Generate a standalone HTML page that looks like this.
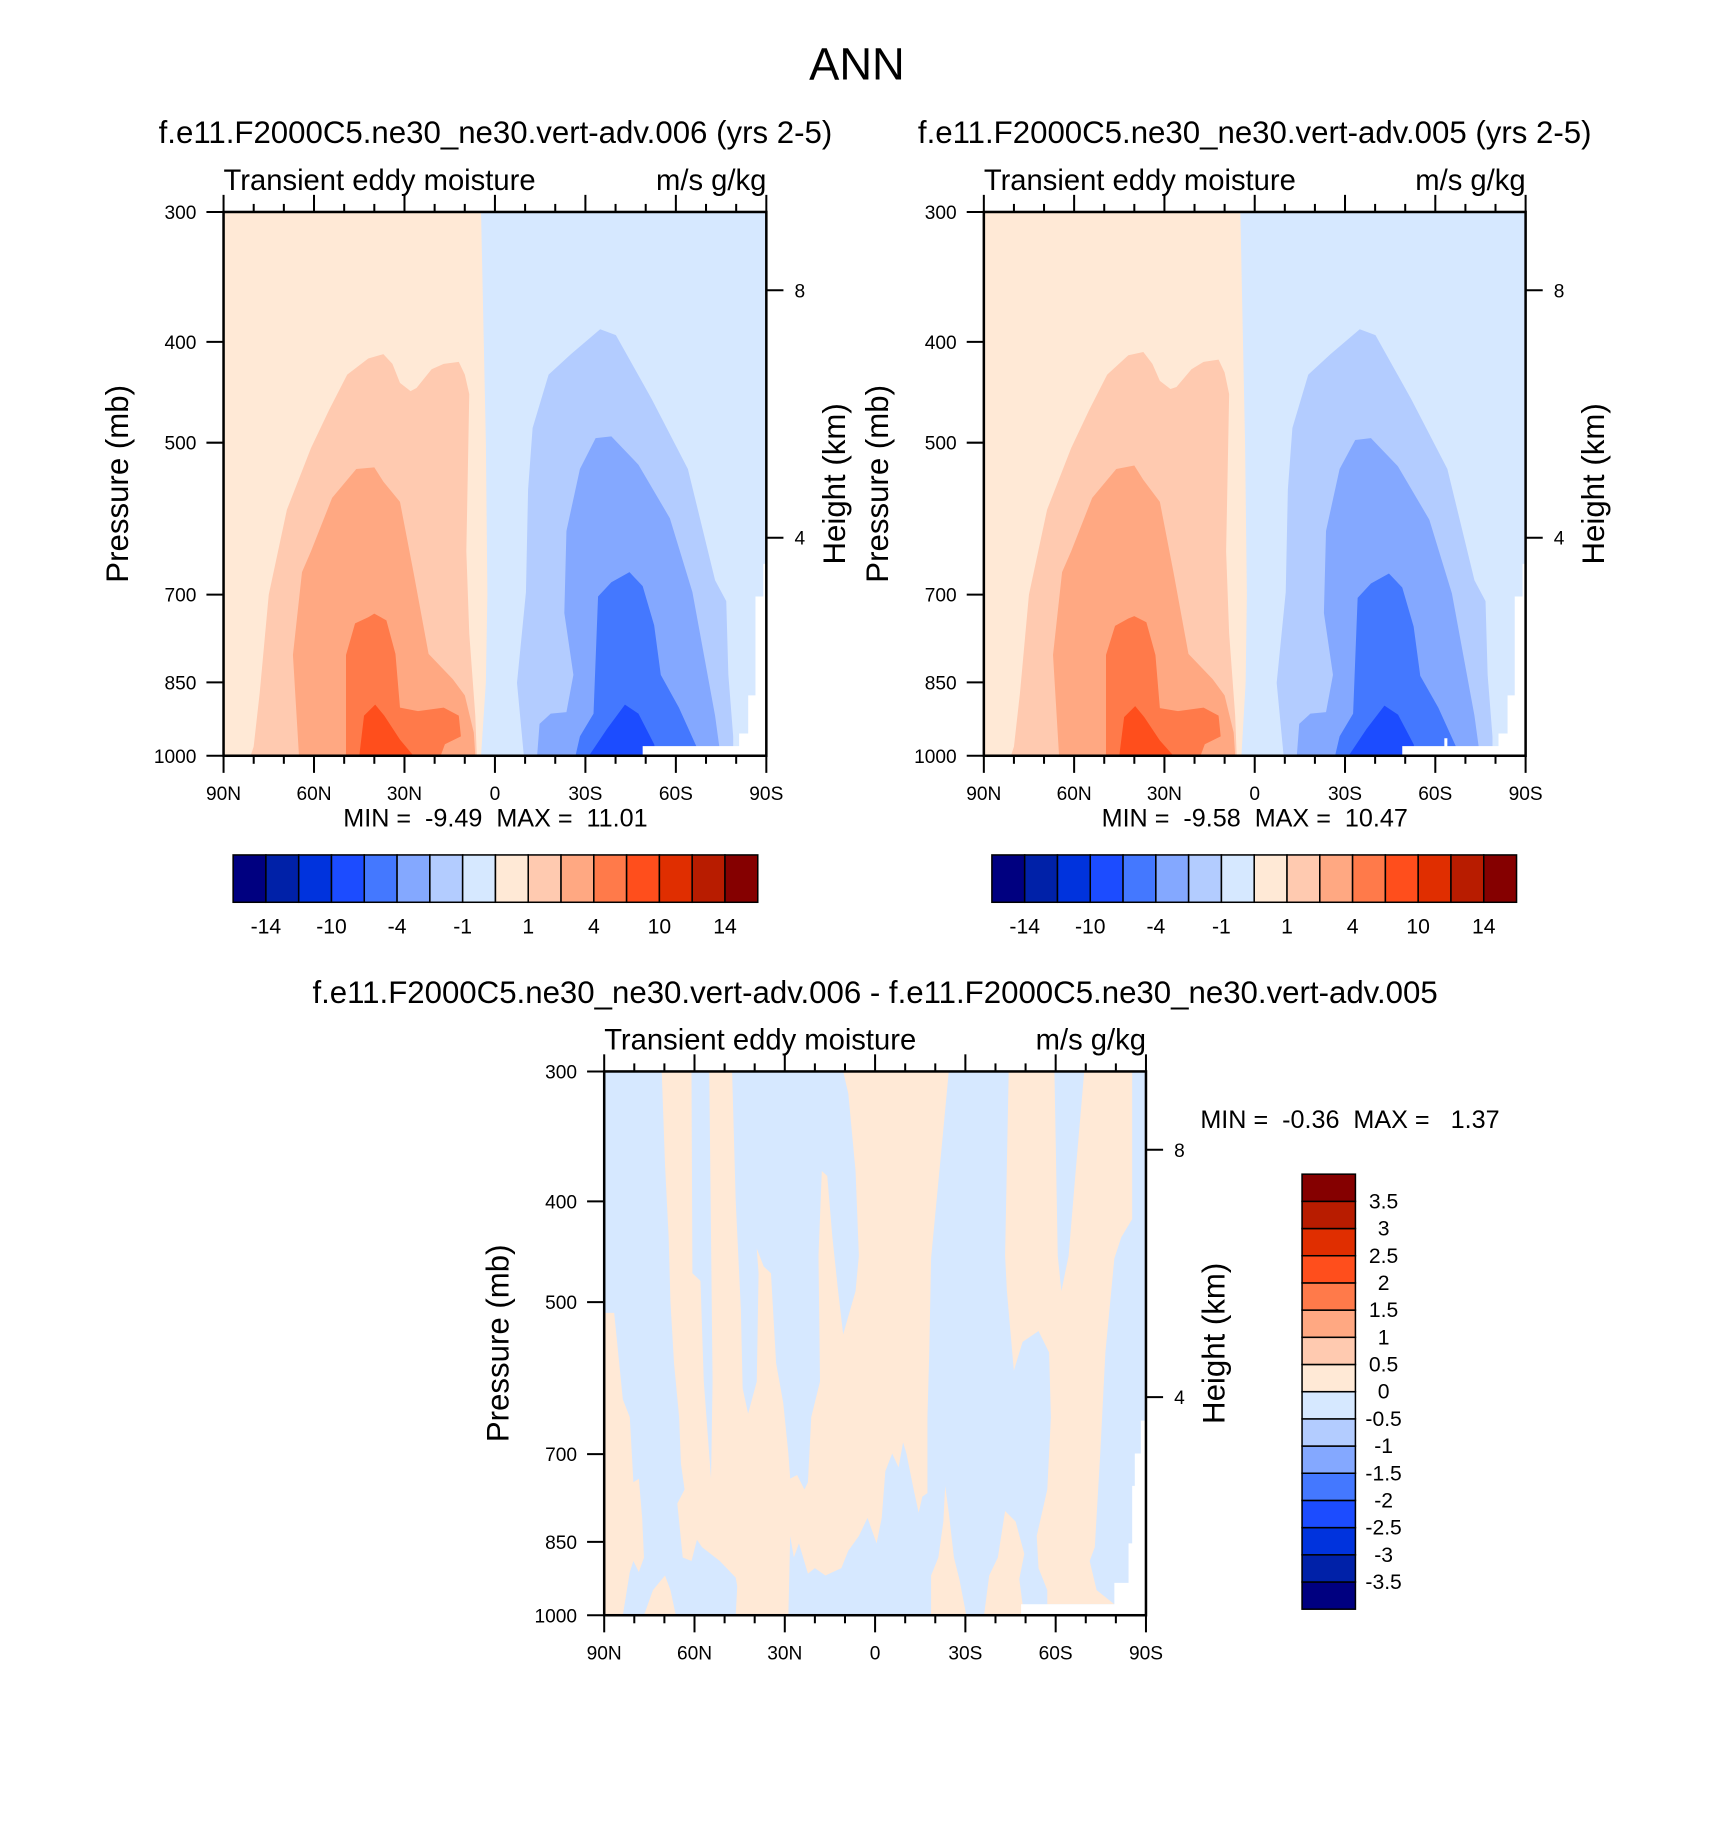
<!DOCTYPE html>
<html><head><meta charset="utf-8"><style>
html,body{margin:0;padding:0;background:#fff;}
svg text{font-family:"Liberation Sans",Arial,sans-serif;fill:#000;}
</style></head><body>
<svg id="svgroot" xmlns="http://www.w3.org/2000/svg" width="1710" height="1830" viewBox="0 0 1710 1830">
<rect width="1710" height="1830" fill="#fff"/>
<g id="chart" transform="scale(1.007)">
<text x="851" y="79" font-size="45" text-anchor="middle">ANN</text>
</g>
</svg>
<script>
// ---------- data ----------
const cbColors = ["#000080","#0021a8","#0033dd","#1c4cff","#4478ff","#84a8ff","#b3ccff","#d6e8ff","#ffe9d6","#ffcab0","#ffa882","#ff7a4a","#ff4e1c","#e02e00","#b81c00","#850000"];
const cbLabelsTop = ["-14","-10","-4","-1","1","4","10","14"];
const cbLabelsDiff = ["3.5","3","2.5","2","1.5","1","0.5","0","-0.5","-1","-1.5","-2","-2.5","-3","-3.5"];
const latTicks = [90,60,30,0,-30,-60,-90];
const latTickLabels = ["90N","60N","30N","0","30S","60S","90S"];
const pTicks = [300,400,500,700,850,1000];
const hTicks = [8,4];
const hTickFrac = [0.144,0.599];
const panelTitles = ["f.e11.F2000C5.ne30_ne30.vert-adv.006 (yrs 2-5)","f.e11.F2000C5.ne30_ne30.vert-adv.005 (yrs 2-5)","f.e11.F2000C5.ne30_ne30.vert-adv.006 - f.e11.F2000C5.ne30_ne30.vert-adv.005"];
const minMax = ["MIN =  -9.49  MAX =  11.01","MIN =  -9.58  MAX =  10.47","MIN =  -0.36  MAX =   1.37"];

// panel 1 contour outlines [lat, pressure]
const p1Pos0 = [[90,300],[4.6,300],[3,500],[2.5,700],[3,850],[4.6,1000],[90,1000]];
const p1Pos1 = [[81,1000],[80,980],[78,870],[75,700],[69,580],[61,506],[55,465],[49,430],[42,415],[37,411],[34,420],[31.5,438],[28,446],[26,443],[21,425],[17,420],[12,418],[10,430],[8.5,449],[9.5,636],[8.5,763],[6.5,915],[6,1000]];
const p1Pos2 = [[65,1000],[67,800],[64,666],[61,636],[54,565],[46,530],[40,528],[37,545],[31.5,570],[27,666],[22,798],[14,844],[10,875],[7,950],[6.5,1000]];
const p1Pos3 = [[49.4,1000],[49.4,800],[46.4,746],[42,736],[40,730],[36,741],[33,798],[31.5,899],[25.5,906],[17,899],[12,915],[11.3,958],[16.6,975],[18,1000]];
const p1Pos4 = [[45,1000],[43.4,915],[39.7,893],[36.7,915],[31.5,965],[27,1000]];
const p1Neg1 = [[-9.6,1000],[-7.3,851],[-10.3,696],[-11,555],[-12.5,484],[-17.8,430],[-25.2,411],[-34.9,389],[-40.1,394],[-52,454],[-64,530],[-73,678],[-76.7,710],[-77.4,836],[-79,958],[-79,1000]];
const p1Neg2 = [[-14,1000],[-14.8,932],[-18.5,911],[-23.7,908],[-26,836],[-23,729],[-23.7,608],[-28.2,530],[-33.4,495],[-38.6,493],[-47.6,525],[-58,591],[-65.5,696],[-73,915],[-74.5,985],[-74.5,1000]];
const p1Neg3 = [[-26.7,1000],[-28.2,958],[-32.7,911],[-34.2,703],[-38.6,681],[-44.6,666],[-49,687],[-52.8,749],[-55,836],[-61,899],[-67,982],[-67.7,1000]];
const p1Neg4 = [[-31.2,1000],[-37.2,942],[-43.1,893],[-47.6,911],[-52.8,975],[-53.6,1000]];
const p1Missing = [[-90,654],[-89,654],[-89,703],[-86.4,703],[-86.4,875],[-84,875],[-84,952],[-81,952],[-81,979],[-49,979],[-49,1000],[-90,1000]];

// panel 2 contour outlines [lat, pressure]
const p2Pos0 = [[90,300],[4.8,300],[3.2,500],[2.6,700],[3,850],[4.4,1000],[90,1000]];
const p2Pos1 = [[81,1000],[80,980],[78,870],[75,700],[69,580],[61,506],[55,465],[49,430],[42,412],[37,409],[34,420],[31.5,436],[28,444],[26,442],[21,425],[17,418],[12,416],[10,428],[8.5,449],[9.5,636],[8.5,763],[6.5,915],[6,1000]];
const p2Pos2 = [[65,1000],[67,800],[64,666],[61,636],[54,565],[46,530],[40,526],[37,543],[31.5,570],[27,666],[22,798],[14,844],[10,875],[7,950],[6.5,1000]];
const p2Pos3 = [[49.4,1000],[49.4,800],[46.4,750],[42,738],[40,734],[36,744],[33,800],[31.5,900],[25.5,906],[17,899],[12,915],[11.3,958],[16.6,975],[18,1000]];
const p2Pos4 = [[45,1000],[43.4,918],[39.7,896],[36.7,918],[31.5,967],[27,1000]];
const p2Neg1 = [[-9.6,1000],[-7.3,851],[-10.3,696],[-11,555],[-12.5,484],[-17.8,430],[-25.2,411],[-34.9,389],[-40.1,394],[-52,454],[-64,530],[-73,678],[-76.7,710],[-77.4,836],[-79,958],[-79,1000]];
const p2Neg2 = [[-14,1000],[-14.8,932],[-18.5,911],[-23.7,908],[-26,836],[-23,729],[-23.7,608],[-28.2,530],[-33.4,497],[-38.6,495],[-47.6,527],[-58,593],[-65.5,698],[-73,915],[-74.5,985],[-74.5,1000]];
const p2Neg3 = [[-26.7,1000],[-28.2,958],[-32.7,911],[-34.2,705],[-38.6,683],[-44.6,668],[-49,689],[-52.8,751],[-55,838],[-61,899],[-67,982],[-67.7,1000]];
const p2Neg4 = [[-31.2,1000],[-37.2,942],[-43.1,895],[-47.6,913],[-52.8,975],[-53.6,1000]];
const p2Missing = [[-90,654],[-89,654],[-89,703],[-86.4,703],[-86.4,875],[-84,875],[-84,952],[-81,952],[-81,979],[-64,979],[-64,962],[-63,962],[-63,979],[-49,979],[-49,1000],[-90,1000]];

// difference panel outlines [lat, pressure]
const dPos1 = [[90,512],[86.7,512],[83.8,620],[81.5,645],[80.3,745],[78.5,739],[77.4,806],[76.8,880],[78.5,909],[80.3,887],[81.5,909],[83.8,1000],[90,1000]];
const dPos2 = [[70.9,300],[61,300],[60.7,469],[58,477],[56.9,596],[54.5,739],[54,596],[54.5,433],[55.1,300],[47.5,300],[46.3,400],[44.6,508],[44,605],[42.2,640],[39.3,596],[38.7,469],[39.3,444],[37,462],[34.6,469],[32.9,572],[30.5,625],[28.8,699],[28.2,739],[25.9,733],[23.5,757],[22.3,745],[21.2,645],[18.3,596],[18.8,451],[17.7,374],[15.9,378],[14.2,433],[12.4,484],[10.6,537],[8.9,516],[6.5,488],[5.4,451],[6.5,374],[8.9,315],[10.6,300],[-24.5,300],[-22.7,341],[-20.4,400],[-18.6,454],[-18,559],[-17.4,645],[-17.4,763],[-15.7,769],[-14.5,797],[-12.8,757],[-10.4,699],[-9.3,682],[-7.8,721],[-5.7,699],[-3.4,727],[-2.2,806],[-0.5,853],[2.5,806],[5.4,839],[8.9,867],[11.2,901],[16.5,916],[20,901],[22.3,912],[25.3,853],[27,880],[28.2,839],[28.8,1000],[46.3,1000],[45.8,938],[46.3,920],[51.6,887],[57.5,860],[59.2,846],[61,887],[63.9,880],[65.1,813],[65.7,781],[63.3,757],[64.5,715],[65.1,645],[66.8,572],[68,500],[68.6,433],[69.8,369]];
const dPos3 = [[-44.4,300],[-59.6,300],[-60.7,451],[-61.9,488],[-64.3,451],[-66.6,375],[-69.5,300],[-85.4,300],[-85.4,416],[-81.8,433],[-79.5,454],[-76.5,559],[-74.8,699],[-73,860],[-71.3,887],[-73.6,946],[-79.5,976],[-57.2,976],[-57.2,946],[-54.3,901],[-53.7,839],[-57.2,757],[-58.4,645],[-57.8,559],[-54.3,533],[-49,546],[-46.1,582],[-43.8,488],[-43.2,451]];
const dPos4 = [[-43.2,794],[-46.7,813],[-49.6,873],[-47.9,923],[-49,976],[-48.5,1000],[-36.2,1000],[-37.9,916],[-40.8,880]];
const dPos5 = [[-23.3,751],[-24.5,797],[-26.2,880],[-28,923],[-30.3,1000],[-18.6,1000],[-18.6,916],[-21,880],[-22.7,813]];
const dPos6 = [[76.8,1000],[73.8,946],[69.8,916],[68,946],[66.2,1000]];
const dMissing = [[-90,650],[-88.3,650],[-88.3,699],[-86.3,699],[-86.3,751],[-85.4,751],[-85.4,853],[-84.2,853],[-84.2,931],[-79.5,931],[-79.5,976],[-48.5,976],[-48.5,1000],[-90,1000]];

// ---------- drawing ----------
const NS = "http://www.w3.org/2000/svg";
const svg = document.getElementById("chart");
function mk(tag, attrs, parent){const e=document.createElementNS(NS,tag);for(const k in attrs)e.setAttribute(k,attrs[k]);(parent||svg).appendChild(e);return e;}
function txt(s, attrs, parent){const e=mk("text",attrs,parent);e.textContent=s;return e;}

function makeAxes(ox, oy, w, h){
  return {
    x: lat => ox + (90 - lat) / 180 * w,
    y: p => oy + h * (1 - Math.log(1000 / p) / Math.log(1000 / 300))
  };
}
function poly(g, ax, pts, color, name){
  const d = pts.map(q => ax.x(q[0]).toFixed(1) + "," + ax.y(q[1]).toFixed(1)).join(" ");
  const e = mk("polygon", {points: d, fill: color}, g);
  
  
}

function drawPanel(idx, ox, oy, w, h, bg, layers){
  const g = mk("g", {});
  
  
  const ax = makeAxes(ox, oy, w, h);
  const clipId = "clip" + idx;
  const cp = mk("clipPath", {id: clipId}, g);
  mk("rect", {x: ox, y: oy, width: w, height: h}, cp);
  const cg = mk("g", {"clip-path": "url(#" + clipId + ")"}, g);
  
  
  const bgr = mk("rect", {x: ox, y: oy, width: w, height: h, fill: bg}, cg);
  
  
  layers.forEach(L => poly(cg, ax, L[0], L[1], L[2]));
  const fr = mk("rect", {x: ox, y: oy, width: w, height: h, fill: "none", stroke: "#000", "stroke-width": 2.5}, g);
  
  
  for (let lat = 90; lat >= -90; lat -= 10) {
    const x = ax.x(lat);
    const major = lat % 30 === 0;
    const L = major ? 17 : 8;
    mk("line", {x1: x, y1: oy, x2: x, y2: oy - L, stroke: "#000", "stroke-width": 2}, g);
    mk("line", {x1: x, y1: oy + h, x2: x, y2: oy + h + L, stroke: "#000", "stroke-width": 2}, g);
  }
  latTicks.forEach((lat, i) => {
    const t = txt(latTickLabels[i], {x: ax.x(lat), y: oy + h + 44, "font-size": 19, "text-anchor": "middle"}, g);
    
    
  });
  pTicks.forEach(p => {
    const y = ax.y(p);
    mk("line", {x1: ox, y1: y, x2: ox - 17, y2: y, stroke: "#000", "stroke-width": 2}, g);
    const t = txt(String(p), {x: ox - 27, y: y + 7, "font-size": 19, "text-anchor": "end"}, g);
    
    
  });
  hTicks.forEach((hk, i) => {
    const y = oy + h * hTickFrac[i];
    mk("line", {x1: ox + w, y1: y, x2: ox + w + 17, y2: y, stroke: "#000", "stroke-width": 2}, g);
    const t = txt(String(hk), {x: ox + w + 28, y: y + 7, "font-size": 19, "text-anchor": "start"}, g);
    
    
  });
  const cy = oy + h / 2;
  const pl = txt("Pressure (mb)", {x: 0, y: 0, "font-size": 31, "text-anchor": "middle", transform: "translate(" + (ox - 95) + "," + cy + ") rotate(-90)"}, g);
  
  
  const hl = txt("Height (km)", {x: 0, y: 0, "font-size": 31, "text-anchor": "middle", transform: "translate(" + (ox + w + 78) + "," + cy + ") rotate(-90)"}, g);
  
  
  const lt = txt("Transient eddy moisture", {x: ox, y: oy - 22, "font-size": 29}, g);
  
  
  const ut = txt("m/s g/kg", {x: ox + w, y: oy - 22, "font-size": 29, "text-anchor": "end"}, g);
  
  
  return g;
}

function hColorbar(x0, y0, w, h){
  const g = mk("g", {});
  
  
  const bw = w / cbColors.length;
  cbColors.forEach((c, i) => {
    const r = mk("rect", {x: x0 + i * bw, y: y0, width: bw, height: h, fill: c, stroke: "#000", "stroke-width": 1.5}, g);
    
    
  });
  cbLabelsTop.forEach((s, i) => {
    const t = txt(s, {x: x0 + (2 * i + 1) * bw, y: y0 + h + 31, "font-size": 21, "text-anchor": "middle"}, g);
    
    
  });
}
function vColorbar(x0, y0, w, h){
  const g = mk("g", {});
  
  
  const bh = h / cbColors.length;
  const n = cbColors.length;
  cbColors.forEach((c, i) => {
    const r = mk("rect", {x: x0, y: y0 + (n - 1 - i) * bh, width: w, height: bh, fill: c, stroke: "#000", "stroke-width": 1.5}, g);
    
    
  });
  cbLabelsDiff.forEach((s, i) => {
    const t = txt(s, {x: x0 + w + 28, y: y0 + (i + 1) * bh + 7, "font-size": 21, "text-anchor": "middle"}, g);
    
    
  });
}

const C = cbColors;
const P1 = [222, 210.5, 539, 540], P2 = [977, 210.5, 538, 540], P3 = [600, 1064, 538, 540];
drawPanel(0, P1[0], P1[1], P1[2], P1[3], C[7], [
  [p1Pos0, C[8], 'contour-0-1'], [p1Pos1, C[9], 'contour-1-4'], [p1Pos2, C[10], 'contour-4-7'],
  [p1Pos3, C[11], 'contour-7-10'], [p1Pos4, C[12], 'contour-10-12'],
  [p1Neg1, C[6], 'contour-neg1'], [p1Neg2, C[5], 'contour-neg2'], [p1Neg3, C[4], 'contour-neg4'], [p1Neg4, C[3], 'contour-neg7'],
  [p1Missing, "#ffffff", 'missing-data']]);
drawPanel(1, P2[0], P2[1], P2[2], P2[3], C[7], [
  [p2Pos0, C[8], 'contour-0-1'], [p2Pos1, C[9], 'contour-1-4'], [p2Pos2, C[10], 'contour-4-7'],
  [p2Pos3, C[11], 'contour-7-10'], [p2Pos4, C[12], 'contour-10-12'],
  [p2Neg1, C[6], 'contour-neg1'], [p2Neg2, C[5], 'contour-neg2'], [p2Neg3, C[4], 'contour-neg4'], [p2Neg4, C[3], 'contour-neg7'],
  [p2Missing, "#ffffff", 'missing-data']]);
drawPanel(2, P3[0], P3[1], P3[2], P3[3], C[7], [
  [dPos1, C[8], 'contour-pos'], [dPos2, C[8], 'contour-pos'], [dPos3, C[8], 'contour-pos'],
  [dPos4, C[8], 'contour-pos'], [dPos5, C[8], 'contour-pos'], [dPos6, C[8], 'contour-pos'],
  [dMissing, "#ffffff", 'missing-data']]);

[[492, 142], [1246, 142], [869, 996]].forEach((q, i) => {
  const t = txt(panelTitles[i], {x: q[0], y: q[1], "font-size": 31, "text-anchor": "middle"});
  
  
});
[[492, 821, "middle"], [1246, 821, "middle"], [1192, 1120, "start"]].forEach((q, i) => {
  const t = txt(minMax[i], {x: q[0], y: q[1], "font-size": 25, "text-anchor": q[2]});
  t.style.whiteSpace = "pre";
  
  
});
hColorbar(231.5, 849, 521, 47);
hColorbar(985, 849, 521, 47);
vColorbar(1293, 1166, 53, 432);
</script>
</body></html>
